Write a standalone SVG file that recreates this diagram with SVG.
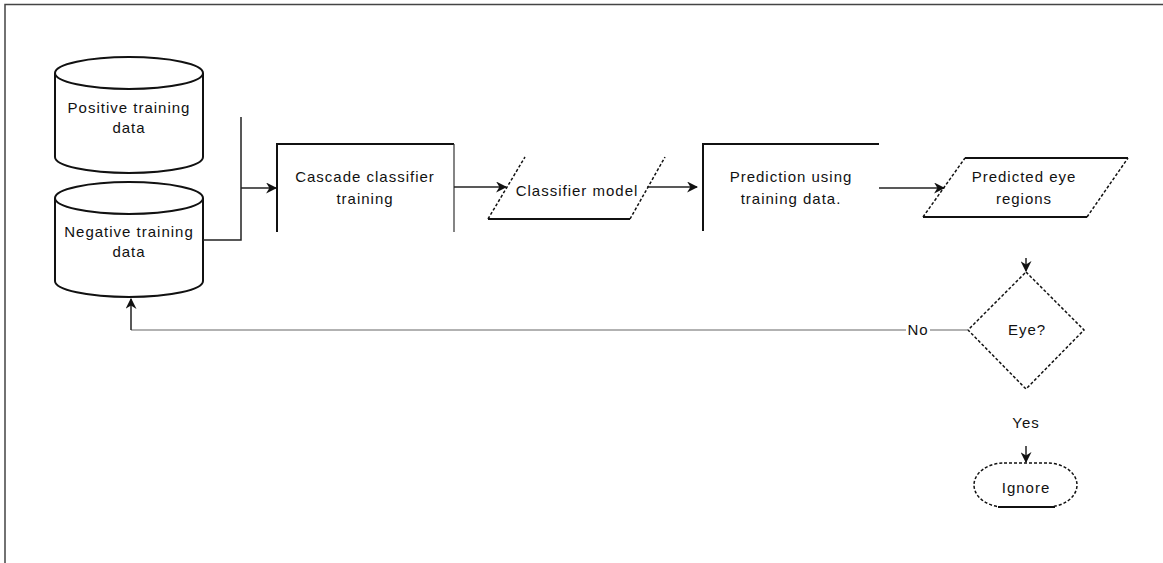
<svg xmlns="http://www.w3.org/2000/svg" width="1163" height="563" viewBox="0 0 1163 563">
<style>
text{font-family:"Liberation Sans",Arial,sans-serif;font-size:15px;letter-spacing:1px;fill:#111;text-anchor:middle}
.cyl{fill:#fff;stroke:#111;stroke-width:2}
.thick{fill:none;stroke:#111;stroke-width:2}
.thin{fill:none;stroke:#333;stroke-width:1.2}
.dash{fill:none;stroke:#111;stroke-width:1.5;stroke-dasharray:3 2}
.conn{fill:none;stroke:#222;stroke-width:1.5}
.gray{fill:none;stroke:#999;stroke-width:1.5}
</style>
<defs>
<marker id="arr" viewBox="0 0 10 10" refX="9" refY="5" markerWidth="11" markerHeight="11" markerUnits="userSpaceOnUse" orient="auto">
<path d="M0,0 L10,5 L0,10 L3,5 Z" fill="#111"/>
</marker>
</defs>
<rect width="1163" height="563" fill="#fff"/>
<path d="M5,563 V4.5 H1163" fill="none" stroke="#444" stroke-width="1.5"/>

<g id="positive">
<path class="cyl" d="M55,73 a74,16 0 0 1 148,0 v84 a74,16 0 0 1 -148,0 Z"/>
<path class="cyl" fill="none" d="M55,73 a74,16 0 0 0 148,0"/>
<text x="129" y="113">Positive training</text>
<text x="129" y="133">data</text>
</g>

<g id="negative">
<path class="cyl" d="M55,198 a74,16 0 0 1 148,0 v83 a74,16 0 0 1 -148,0 Z"/>
<path class="cyl" fill="none" d="M55,198 a74,16 0 0 0 148,0"/>
<text x="129" y="237">Negative training</text>
<text x="129" y="257">data</text>
</g>

<g id="cascade">
<path class="thick" d="M277,232 V144 H454"/>
<path class="thin" stroke="#888" d="M454,144 V232"/>
<text x="365" y="182">Cascade classifier</text>
<text x="365" y="204">training</text>
</g>

<g id="model">
<path class="thick" d="M488,219 H630"/>
<path class="dash" d="M488,219 L525,157"/>
<path class="dash" d="M630,219 L665,157"/>
<text x="577" y="196">Classifier model</text>
</g>

<g id="prediction">
<path class="thick" d="M703,231 V144 H879"/>
<text x="791" y="182">Prediction using</text>
<text x="791" y="204">training data.</text>
</g>

<g id="regions">
<path class="thick" d="M965,158 H1128"/>
<path class="thick" d="M923,217 H1087"/>
<path class="dash" d="M923,217 L965,158"/>
<path class="dash" d="M1087,217 L1128,158"/>
<text x="1024" y="182">Predicted eye</text>
<text x="1024" y="204">regions</text>
</g>

<g id="eye">
<path class="dash" d="M1026,272 L1084,330 L1026,389 L968,330 Z" fill="#fff"/>
<text x="1027" y="335">Eye?</text>
</g>

<g id="ignore">
<rect class="dash" x="974" y="463" width="103" height="44" rx="30" ry="22" fill="#fff"/>
<path class="thick" d="M998,507 H1055"/>
<text x="1026" y="493">Ignore</text>
</g>

<g id="connectors">
<path class="conn" d="M203,240 H241 V117"/>
<path class="conn" d="M241,188 H276" marker-end="url(#arr)"/>
<path class="conn" d="M454,187 H506" marker-end="url(#arr)"/>
<path class="conn" d="M647,187 H697" marker-end="url(#arr)"/>
<path class="conn" d="M879,188 H944" marker-end="url(#arr)"/>
<path class="conn" d="M1026,258 V271" marker-end="url(#arr)"/>
<path class="gray" d="M968,330 H930"/>
<path class="gray" d="M906,330 H131"/>
<path class="conn" d="M131,330 V299" marker-end="url(#arr)"/>
<path class="conn" d="M1026,446 V462" marker-end="url(#arr)"/>
<text x="918" y="335">No</text>
<text x="1026" y="428">Yes</text>
</g>
</svg>
